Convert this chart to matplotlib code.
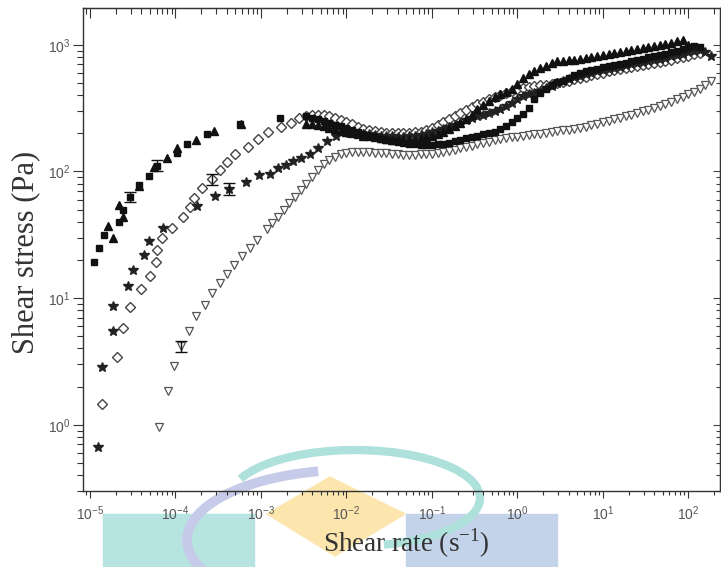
import numpy as np
import matplotlib
matplotlib.use('Agg')
import matplotlib.pyplot as plt
from matplotlib.ticker import LogLocator, FixedLocator, FuncFormatter, NullFormatter
from matplotlib.patches import Rectangle, Polygon, Arc

plt.rcParams['font.family'] = ['Liberation Sans', 'DejaVu Sans']
plt.rcParams['mathtext.fontset'] = 'custom'
plt.rcParams['mathtext.rm'] = 'Liberation Sans'

# decade ticks shown on the axes
x_decades = [1e-5, 1e-4, 1e-3, 1e-2, 1e-1, 1e0, 1e1, 1e2]
y_decades = [1e0, 1e1, 1e2, 1e3]

# shared shear-rate sweep of the dense part (s^-1), 15 points per decade
rate_grid = [
    0.00100, 0.00117, 0.00136, 0.00158, 0.00185, 0.00215, 0.00251, 0.00293, 0.00341, 0.00398, 0.00464, 0.00541, 0.00631, 0.00736, 0.00858,
    0.0100, 0.0117, 0.0136, 0.0158, 0.0185, 0.0215, 0.0251, 0.0293, 0.0341, 0.0398, 0.0464, 0.0541, 0.0631, 0.0736, 0.0858,
    0.100, 0.117, 0.136, 0.158, 0.185, 0.215, 0.251, 0.293, 0.341, 0.398, 0.464, 0.541, 0.631, 0.736, 0.858,
    1.00, 1.17, 1.36, 1.58, 1.85, 2.15, 2.51, 2.93, 3.41, 3.98, 4.64, 5.41, 6.31, 7.36, 8.58,
    10.0, 11.7, 13.6, 15.8, 18.5, 21.5, 25.1, 29.3, 34.1, 39.8, 46.4, 54.1, 63.1, 73.6, 85.8,
    100, 117, 136, 158, 185]

# filled squares
sq_rate_low = [1.1e-5, 1.27e-5, 1.47e-5, 2.2e-5, 2.4e-5, 2.9e-5, 3.76e-5, 4.9e-5, 6.1e-5, 1.03e-4, 1.36e-4, 2.35e-4, 5.7e-4, 1.68e-3]
sq_stress_low = [19.3, 25, 31.5, 40, 50, 63, 77.6, 92, 111, 140, 166, 198, 237, 264]
sq_start = 8
sq_stress = [272, 266, 258, 250, 242, 234, 227,
             220, 212, 205, 198, 192, 186, 181, 177, 174, 171, 168, 166, 164, 163, 163,
             163, 164, 166, 169, 173, 178, 183, 188, 192, 196, 200, 206, 216, 228, 244,
             262, 282, 315, 375, 415, 445, 480, 505, 522, 545, 575, 600, 618, 632, 648,
             662, 676, 690, 705, 722, 740, 760, 778, 795, 815, 832, 850, 875, 900, 925,
             955, 970, 960]

# filled triangles
tri_rate_low = [1.64e-5, 1.87e-5, 2.2e-5, 2.4e-5, 3.76e-5, 5.6e-5, 8.0e-5, 1.05e-4, 1.76e-4, 2.8e-4, 5.9e-4]
tri_stress_low = [36.8, 29.8, 54.6, 44, 77, 108, 128, 153, 178, 210, 237]
tri_start = 8
tri_stress = [236, 236, 234, 228, 222, 216, 210,
              205, 200, 196, 192, 189, 186, 183, 180, 178, 177, 176, 176, 177, 179, 183,
              189, 196, 204, 215, 228, 243, 260, 280, 310, 335, 360, 385, 405, 425, 450,
              490, 545, 590, 625, 655, 680, 715, 740, 750, 755, 762, 770, 780, 795, 815,
              835, 850, 865, 880, 895, 912, 930, 945, 962, 980, 998, 1018, 1040, 1065, 1095,
              1000]

# open diamonds
dia_rate_low = [1.37e-5, 2.05e-5, 2.4e-5, 2.9e-5, 3.9e-5, 5.0e-5, 5.9e-5, 6.1e-5, 6.9e-5, 9.1e-5,
                1.23e-4, 1.47e-4, 1.65e-4, 2.07e-4, 2.67e-4, 3.3e-4, 4.0e-4, 5.0e-4, 7.0e-4, 9.2e-4,
                1.2e-3, 1.73e-3, 2.26e-3, 2.8e-3]
dia_stress_low = [1.46, 3.4, 5.8, 8.5, 11.7, 15, 19.4, 24, 29.8, 36,
                  43.6, 52, 62, 74, 87, 103, 118, 137, 157, 180,
                  203, 224, 241, 264]
dia_start = 8
dia_stress = [272, 278, 280, 279, 274, 266, 255,
              245, 235, 226, 218, 212, 207, 204, 202, 201, 200, 200, 201, 203, 206, 212,
              220, 232, 245, 258, 272, 288, 305, 322, 340, 356, 372, 388, 402, 416, 430,
              445, 458, 468, 476, 480, 484, 490, 498, 508, 520, 532, 545, 558, 572, 588,
              602, 615, 628, 640, 652, 664, 676, 690, 702, 715, 730, 745, 762, 780, 800,
              820, 842, 862]

# filled stars
star_rate_low = [1.25e-5, 1.37e-5, 1.84e-5, 1.84e-5, 2.8e-5, 3.2e-5, 4.27e-5, 4.9e-5, 7.2e-5, 1.79e-4,
                 2.9e-4, 4.2e-4, 6.7e-4, 9.4e-4, 1.26e-3, 1.58e-3, 1.97e-3, 2.36e-3, 2.95e-3, 3.7e-3,
                 4.6e-3, 6.0e-3, 7.5e-3, 1.08e-2]
star_stress_low = [0.67, 2.86, 5.5, 8.6, 12.5, 16.7, 22, 28.4, 36, 53.6,
                   63.5, 73, 83, 93, 96, 106, 113, 120, 128, 138,
                   153, 173, 189, 201]
star_start = 17
star_stress = [199, 198, 196, 194, 192, 190, 189, 188, 188, 189, 191, 194, 198,
               203, 209, 216, 224, 233, 243, 253, 263, 272, 280, 290, 300, 312, 328, 348,
               372, 392, 405, 418, 432, 452, 475, 500, 518, 535, 552, 568, 585, 600, 615,
               630, 644, 658, 672, 686, 700, 715, 730, 745, 760, 776, 792, 810, 828, 848,
               870, 890, 905, 870, 815]

# open down triangles
tdn_rate_low = [6.4e-5, 8.1e-5, 9.6e-5, 1.17e-4, 1.43e-4, 1.72e-4, 2.2e-4, 2.7e-4, 3.3e-4, 4.0e-4,
                4.9e-4, 6.0e-4, 7.4e-4, 9.0e-4]
tdn_stress_low = [0.96, 1.85, 2.9, 4.15, 5.45, 7.2, 8.9, 11, 13.2, 15.6,
                  18.4, 21.6, 24.9, 29]
tdn_start = 1
tdn_stress = [35, 39.5, 44, 50, 56, 63, 71, 80, 90, 103, 115, 123, 131, 137,
              140, 142, 143, 143, 142, 141, 140, 139, 137, 136, 135, 135, 135, 136, 137,
              138, 140, 142, 145, 148, 152, 156, 160, 164, 168, 172, 176, 180, 184, 186,
              188, 190, 193, 196, 199, 202, 205, 208, 211, 214, 218, 222, 226, 231, 236,
              244, 252, 259, 266, 273, 281, 289, 298, 308, 318, 329, 341, 354, 370, 388,
              405, 425, 450, 480, 515]

# error bars
err_rate = [2.9e-5, 6.1e-5, 2.67e-4, 4.2e-4, 1.17e-4]
err_stress = [63, 111, 87, 73, 4.15]
err_size = [6, 11, 9, 8, 0.43]


def full_series(rate_low, stress_low, start, stress):
    x = list(rate_low) + rate_grid[start:start + len(stress)]
    y = list(stress_low) + list(stress)
    return x, y


W, H = 721, 567
fig = plt.figure(figsize=(W / 100, H / 100), dpi=100)
ax = fig.add_axes([83 / W, 1 - 491 / H, (720 - 83) / W, (491 - 8) / H])
ax.set_facecolor('none')

# watermark shapes (drawn behind the axes)
def px(x, y):
    return (x / W, 1 - y / H)

shapes = [
    Rectangle(px(103, 567), 151 / W, 53 / H, color='#b7e4e0'),
    Rectangle(px(406, 567), 151 / W, 53 / H, color='#c3d3e9'),
    Polygon([px(267, 514), px(330, 477), px(405, 514), px(335, 556)], closed=True, color='#fce6ae'),
    Arc(px(355, 498), 250 / W, 96 / H, theta1=-64, theta2=168, color='#aee0dc', lw=6),
    Arc(px(350, 540), 326 / W, 140 / H, theta1=110, theta2=245, color='#c5cbe8', lw=7),
]
for s in shapes:
    s.set_transform(fig.transFigure)
    s.set_zorder(-5)
    fig.add_artist(s)

x, y = full_series(tdn_rate_low, tdn_stress_low, tdn_start, tdn_stress)
ax.plot(x, y, 'v', ms=6, mfc='white', mec='#555555', mew=0.9, ls='none')
x, y = full_series(dia_rate_low, dia_stress_low, dia_start, dia_stress)
ax.plot(x, y, 'D', ms=5, mfc='white', mec='#444444', mew=1.0, ls='none')
x, y = full_series(star_rate_low, star_stress_low, star_start, star_stress)
ax.plot(x, y, '*', ms=7, color='#222222', ls='none')
x, y = full_series(sq_rate_low, sq_stress_low, sq_start, sq_stress)
ax.plot(x, y, 's', ms=5, color='#111111', ls='none')
x, y = full_series(tri_rate_low, tri_stress_low, tri_start, tri_stress)
ax.plot(x, y, '^', ms=6, color='#111111', ls='none')

ax.errorbar(err_rate, err_stress, yerr=err_size, fmt='none', ecolor='#111111',
            elinewidth=1, capsize=4, capthick=1)

ax.set_xscale('log')
ax.set_yscale('log')
ax.set_xlim(8.28e-6, 235)
ax.set_ylim(0.30, 1950)

fmt = FuncFormatter(lambda v, p: r'$\mathregular{10^{%d}}$' % round(np.log10(v)))
minor = LogLocator(base=10, subs=np.arange(2, 10), numticks=20)
ax.xaxis.set_major_locator(FixedLocator(x_decades))
ax.yaxis.set_major_locator(FixedLocator(y_decades))
for axis in (ax.xaxis, ax.yaxis):
    axis.set_minor_locator(LogLocator(base=10, subs=np.arange(2, 10), numticks=20))
    axis.set_major_formatter(fmt)
    axis.set_minor_formatter(NullFormatter())

for sp in ax.spines.values():
    sp.set_color('#333333')
    sp.set_linewidth(1.0)

ax.tick_params(axis='both', which='both', direction='out', color='#333333',
               labelcolor='#555555', labelsize=10, width=0.8)
ax.tick_params(axis='x', which='major', length=5, pad=5)
ax.tick_params(axis='x', which='minor', length=3)
ax.tick_params(axis='y', which='major', length=7, pad=2)
ax.tick_params(axis='y', which='minor', length=4)

top = ax.secondary_xaxis('top')
top.xaxis.set_major_locator(FixedLocator(x_decades))
top.xaxis.set_minor_locator(LogLocator(base=10, subs=np.arange(2, 10), numticks=20))
top.xaxis.set_major_formatter(NullFormatter())
top.xaxis.set_minor_formatter(NullFormatter())
top.tick_params(which='both', direction='in', labeltop=False, color='#333333', width=0.8)
top.tick_params(which='major', length=7)
top.tick_params(which='minor', length=4)
top.spines['top'].set_color('#333333')

right = ax.secondary_yaxis('right')
right.yaxis.set_major_locator(FixedLocator(y_decades))
right.yaxis.set_minor_locator(LogLocator(base=10, subs=np.arange(2, 10), numticks=20))
right.yaxis.set_major_formatter(NullFormatter())
right.yaxis.set_minor_formatter(NullFormatter())
right.tick_params(which='both', direction='in', labelright=False, color='#444444', width=0.8)
right.tick_params(which='major', length=5)
right.tick_params(which='minor', length=3)

fig.text(406 / W, 1 - 543 / H, r'Shear rate (s$^{\mathregular{-1}}$)', family='Liberation Serif',
         fontsize=19.5, color='#333333', ha='center', va='center')
fig.text(26 / W, 1 - 252 / H, 'Shear stress (Pa)', family='Liberation Serif',
         fontsize=22, color='#333333', ha='center', va='center', rotation=90)

fig.savefig('out.png', dpi=100)
